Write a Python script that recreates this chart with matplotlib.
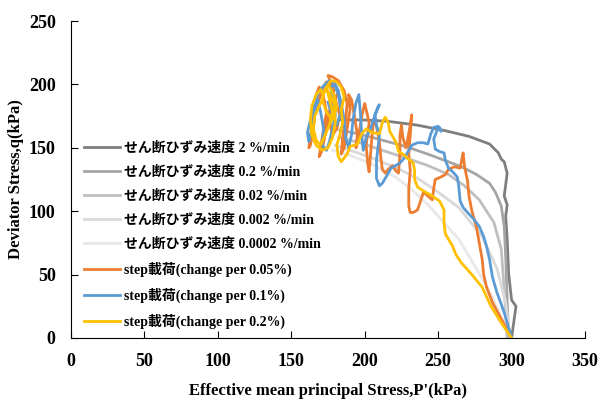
import matplotlib
matplotlib.use("Agg")
import matplotlib.pyplot as plt

plt.rcParams['font.family'] = ['Liberation Serif', 'Noto Sans CJK JP']
plt.rcParams['font.weight'] = 'bold'
plt.rcParams['axes.labelweight'] = 'bold'

# --- 単調載荷 (せん断ひずみ速度) ---
p_2 = [300, 303, 300, 298, 297, 296, 297, 295, 296, 297, 295, 293, 291, 285, 271, 253, 235, 215, 198, 183]
q_2 = [0, 25, 30, 51, 78, 96, 105, 112, 121, 130, 139, 141, 146, 153, 159, 164, 168, 171, 172, 172]

p_02 = [298, 297, 296, 295, 293, 289, 285, 276, 266, 257, 243, 228, 212, 196, 183]
q_02 = [0, 30, 64, 88, 104, 115, 122, 129, 135, 139, 145, 151, 156, 161, 164]

p_002 = [297, 295, 293, 288, 278, 268, 257, 243, 228, 212, 197, 183]
q_002 = [0, 38, 70, 91, 109, 120, 129, 136, 142, 148, 154, 158]

p_0002 = [299, 296, 290, 280, 264, 250, 236, 220, 205, 190, 180]
q_0002 = [0, 28, 55, 80, 103, 115, 126, 135, 142, 148, 152]

p_00002 = [300, 296, 287, 278, 264, 244, 232, 221, 205, 190, 178]
q_00002 = [0, 9, 32, 51, 78, 104, 117, 127, 137, 144, 148]

# --- step載荷 ---
p_s005 = [300, 293, 287, 283, 281, 280, 278, 276, 273, 271, 270, 268, 267, 266, 265, 261, 257,
          255, 252, 248, 247, 246, 243, 240, 238, 236, 233, 231, 230, 230, 231, 230, 231, 232,
          231, 229, 228, 226, 225, 224, 224, 223, 221, 219, 216, 214, 212, 211, 210, 208, 206,
          205, 204, 203, 202, 201, 203, 200, 198, 196, 194, 195, 193, 191, 189, 190, 188, 186,
          184, 185, 187, 188, 186, 182, 178, 175, 176, 179, 177, 175, 173, 171, 169, 170, 172,
          174, 172, 169, 167, 166, 165, 163, 162, 163, 165, 168, 171, 174, 177, 180, 183, 181,
          178, 176, 179, 182]
q_s005 = [0, 15, 28, 40, 50, 62, 75, 88, 100, 112, 124, 135, 146, 140, 134, 135, 133,
          129, 127, 125, 118, 109, 112, 115, 108, 101, 99, 99, 104, 118, 132, 145, 160, 176,
          168, 155, 150, 158, 168, 160, 145, 130, 132, 136, 133, 130, 133, 142, 155, 167, 172,
          160, 145, 131, 138, 152, 170, 185, 175, 160, 150, 160, 175, 188, 192, 180, 165, 150,
          145, 158, 172, 185, 195, 203, 206, 207, 204, 195, 185, 172, 160, 148, 143, 150, 165,
          178, 190, 198, 192, 178, 163, 152, 150, 160, 172, 185, 196, 202, 198, 188, 176, 165,
          160, 172, 185, 195]

p_s01 = [300, 295, 290, 287, 285, 283, 281, 278, 274, 270, 267, 265, 264, 263, 260, 257, 255,
         254, 251, 248, 247, 249, 251, 252, 250, 247, 245, 243, 240, 236, 232, 229, 227, 224,
         221, 218, 215, 212, 210, 208, 208, 209, 210, 208, 207, 209, 210, 207, 204, 201, 199,
         198, 197, 196, 194, 192, 191, 189, 187, 186, 184, 182, 180, 177, 178, 180, 178, 176,
         174, 171, 172, 170, 168, 166, 165, 163, 162, 161, 163, 166, 169, 173, 176, 179, 182,
         184, 181, 178, 175]
q_s01 = [0, 20, 36, 48, 62, 72, 80, 88, 94, 99, 103, 108, 120, 127, 131, 134, 140,
         146, 147, 149, 157, 163, 166, 163, 167, 166, 161, 153, 154, 154, 152, 146, 142, 138,
         136, 134, 128, 122, 120, 126, 140, 150, 160, 168, 176, 182, 184, 176, 165, 158, 148,
         160, 178, 192, 185, 172, 160, 150, 158, 172, 185, 195, 200, 198, 188, 176, 165, 155,
         148, 152, 165, 178, 188, 180, 168, 160, 155, 162, 172, 185, 195, 200, 203, 201, 192,
         178, 168, 175, 186]

p_s02 = [300, 293, 286, 280, 273, 266, 262, 260, 257, 255, 254, 254, 251, 246, 240, 236, 234,
         234, 233, 229, 226, 223, 222, 221, 219, 217, 216, 214, 212, 210, 205, 201, 198, 195,
         190, 188, 184, 182, 181, 183, 185, 184, 186, 184, 181, 177, 174, 176, 178, 176, 173,
         170, 167, 165, 166, 169, 172, 170, 167, 164, 163, 164, 167, 171, 175, 178, 180, 179,
         176, 173, 171, 174, 178, 181, 179, 176]
q_s02 = [0, 12, 25, 40, 50, 59, 66, 72, 78, 82, 90, 101, 108, 112, 116, 119, 125,
         132, 138, 142, 145, 147, 152, 155, 159, 163, 170, 174, 170, 161, 162, 165, 161, 153,
         151, 145, 139, 143, 152, 160, 170, 180, 190, 198, 202, 203, 198, 188, 178, 168, 160,
         152, 156, 165, 175, 183, 190, 196, 192, 183, 172, 160, 152, 148, 150, 158, 170, 185,
         193, 196, 188, 178, 172, 182, 192, 198]

labels = ['せん断ひずみ速度 2 %/min', 'せん断ひずみ速度 0.2 %/min', 'せん断ひずみ速度 0.02 %/min',
          'せん断ひずみ速度 0.002 %/min', 'せん断ひずみ速度 0.0002 %/min',
          'step載荷(change per 0.05%)', 'step載荷(change per 0.1%)', 'step載荷(change per 0.2%)']
colors = ['#7f7f7f', '#a5a5a5', '#bfbfbf', '#d9d9d9', '#e8e8e8', '#ed7d31', '#5b9bd5', '#ffc000']

series = [(p_2, q_2), (p_02, q_02), (p_002, q_002), (p_0002, q_0002), (p_00002, q_00002),
          (p_s005, q_s005), (p_s01, q_s01), (p_s02, q_s02)]

fig = plt.figure(figsize=(6.01, 4.05), dpi=100)
ax = fig.add_axes([71 / 601, 67 / 405, 514 / 601, 317 / 405])

for (p, q), lab, c in zip(series, labels, colors):
    ax.plot(p, q, color=c, lw=2, label=lab)

ax.set_xlim(0, 350)
ax.set_ylim(0, 250)
ax.set_xticks(range(0, 351, 50))
ax.set_yticks(range(0, 251, 50))
ax.spines['top'].set_visible(False)
ax.spines['right'].set_visible(False)
ax.tick_params(direction='in', length=5, labelsize=13, pad=11)
ax.tick_params(axis='y', pad=11)

ax.set_xlabel("Effective mean principal Stress,P'(kPa)", fontsize=12, labelpad=9)
ax.set_ylabel("Deviator Stress,q(kPa)", fontsize=12)
ax.yaxis.set_label_coords(-0.092, 0.5)

ax.legend(loc='upper left', bbox_to_anchor=(84 / 601, 1 - 142 / 405), bbox_transform=fig.transFigure,
          frameon=False, fontsize=10, handlelength=2.6, handletextpad=0.25,
          labelspacing=0.78, borderpad=0, borderaxespad=0)

fig.savefig('out.png', dpi=100)
